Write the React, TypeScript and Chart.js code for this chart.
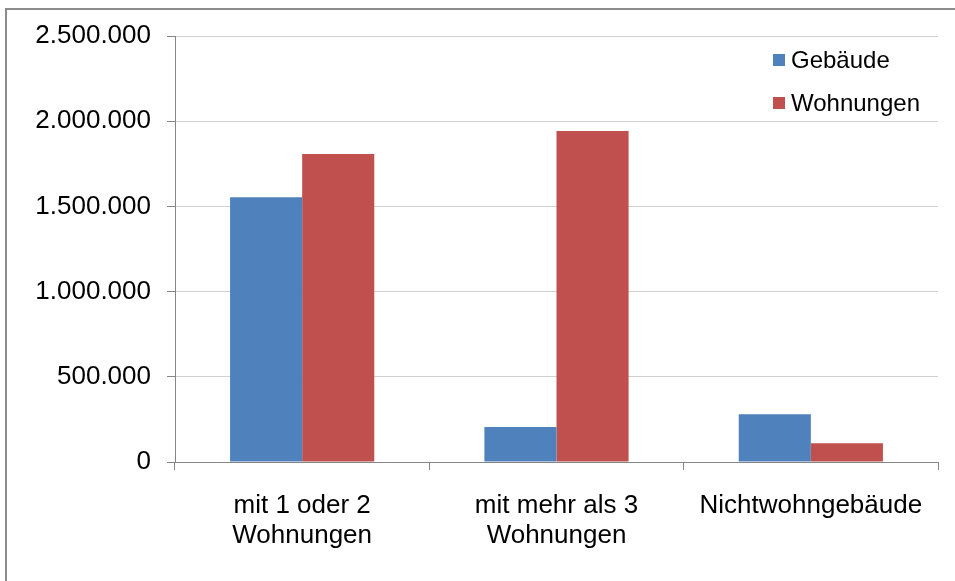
import React, { useEffect, useRef } from "react";
import { Chart, registerables } from "chart.js";

Chart.register(...registerables);

const categories: string[][] = [
  ["mit 1 oder 2", "Wohnungen"],
  ["mit mehr als 3", "Wohnungen"],
  ["Nichtwohngebäude"],
];
const seriesNames = ["Gebäude", "Wohnungen"];
const gebaeude = [1553000, 205000, 280000];
const wohnungen = [1808000, 1943000, 110000];
const seriesColors = ["#4F81BD", "#C0504D"];
const yMax = 2500000;
const yStep = 500000;

const FONT = "'Liberation Sans', Arial, sans-serif";

function fmt(v: number): string {
  return String(Math.round(v)).replace(/\B(?=(\d{3})+(?!\d))/g, ".");
}

const framePlugin = {
  id: "frame",
  beforeDraw(chart: any) {
    const ctx = chart.ctx;
    ctx.save();
    ctx.fillStyle = "#ffffff";
    ctx.fillRect(0, 0, chart.width, chart.height);
    ctx.fillStyle = "#8c8c8c";
    ctx.fillRect(5, 8, chart.width - 5, 2);
    ctx.fillRect(5, 8, 2, chart.height - 8);
    ctx.restore();
  },
};

const legendPlugin = {
  id: "customLegend",
  afterDraw(chart: any) {
    const ctx = chart.ctx;
    ctx.save();
    ctx.font = `24px ${FONT}`;
    ctx.textBaseline = "middle";
    ctx.textAlign = "left";
    const ys = [60, 103];
    chart.data.datasets.forEach((ds: any, i: number) => {
      ctx.fillStyle = ds.backgroundColor;
      ctx.fillRect(773, ys[i] - 6, 12, 12);
      ctx.fillStyle = "#000000";
      ctx.fillText(ds.label, 791, ys[i] + 1);
    });
    ctx.restore();
  },
};

export default function App() {
  const ref = useRef<HTMLCanvasElement | null>(null);

  useEffect(() => {
    if (!ref.current) return;
    const chart = new Chart(ref.current, {
      type: "bar",
      data: {
        labels: categories as any,
        datasets: [
          {
            label: seriesNames[0],
            data: gebaeude,
            backgroundColor: seriesColors[0],
            categoryPercentage: 0.567,
            barPercentage: 1,
          },
          {
            label: seriesNames[1],
            data: wohnungen,
            backgroundColor: seriesColors[1],
            categoryPercentage: 0.567,
            barPercentage: 1,
          },
        ],
      },
      options: {
        responsive: false,
        animation: false,
        devicePixelRatio: 1,
        layout: { padding: { top: 36, right: 17, left: 0, bottom: 0 } },
        plugins: {
          legend: { display: false },
          tooltip: { enabled: false },
        },
        scales: {
          x: {
            grid: {
              display: true,
              drawOnChartArea: false,
              drawTicks: true,
              tickLength: 8,
              tickColor: "#868686",
              offset: true,
            },
            border: { color: "#868686", width: 1 },
            ticks: {
              color: "#000000",
              padding: 21,
              maxRotation: 0,
              autoSkip: false,
              font: { family: FONT, size: 26, lineHeight: 30 / 26 },
            },
            afterFit(scale: any) {
              scale.height = 581 - 462;
            },
          },
          y: {
            min: 0,
            max: yMax,
            grid: {
              color: "#d0d0d0",
              tickColor: "#868686",
              tickLength: 8,
              drawTicks: true,
            },
            border: { color: "#868686", width: 1 },
            ticks: {
              stepSize: yStep,
              color: "#000000",
              padding: 16,
              font: { family: FONT, size: 26 },
              callback: (v: any) => fmt(Number(v)),
            },
            afterFit(scale: any) {
              scale.width = 175;
            },
          },
        },
      },
      plugins: [framePlugin, legendPlugin],
    });
    return () => chart.destroy();
  }, []);

  return (
    <div style={{ position: "fixed", left: 0, top: 0, width: 955, height: 581, background: "#fff" }}>
      <canvas ref={ref} width={955} height={581} style={{ display: "block", width: 955, height: 581 }} />
    </div>
  );
}
